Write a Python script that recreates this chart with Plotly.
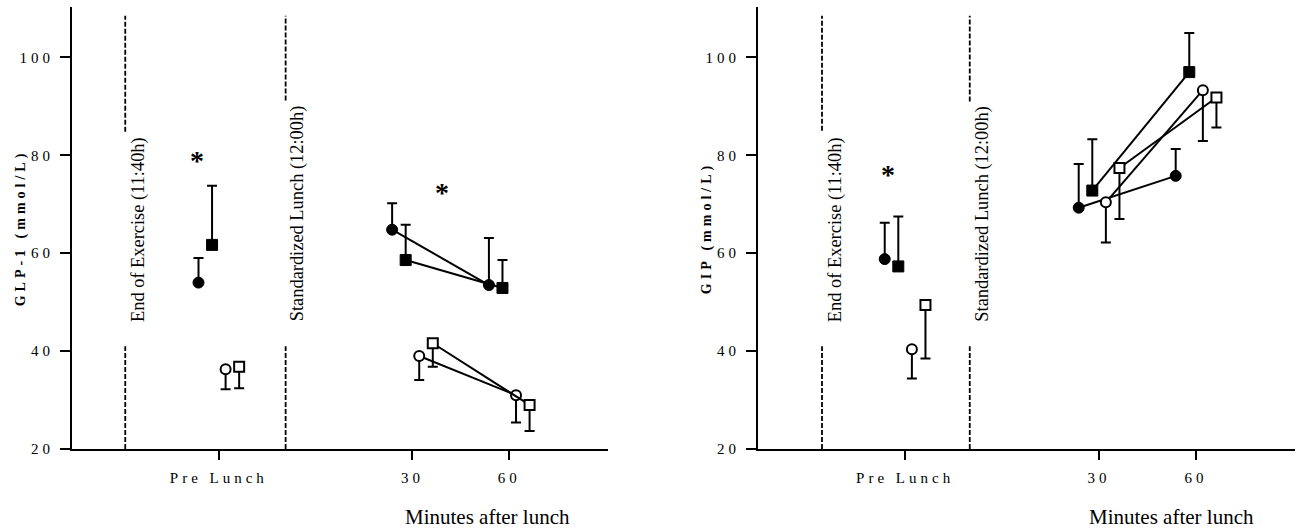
import plotly.graph_objects as go

# ---------------- data ----------------
time_points = [-30, 30, 60]          # Pre Lunch, 30 min, 60 min
tick_vals = [-30, 30, 60]
tick_text = ["Pre Lunch", "30", "60"]
y_ticks = [20, 40, 60, 80, 100]

series_names = ["Group A", "Group B", "Group C", "Group D"]

# GLP-1 panel
glp1_A = [54.0, 64.8, 53.5]
glp1_A_err = [5.0, 5.4, 9.6]
glp1_B = [61.7, 58.6, 52.9]
glp1_B_err = [12.1, 7.2, 5.7]
glp1_C = [36.3, 39.0, 31.0]
glp1_C_err = [4.1, 4.9, 5.6]
glp1_D = [36.8, 41.6, 29.0]
glp1_D_err = [4.4, 4.8, 5.3]

# GIP panel
gip_A = [58.8, 69.3, 75.8]
gip_A_err = [7.4, 8.9, 5.5]
gip_B = [57.3, 72.8, 97.0]
gip_B_err = [10.2, 10.5, 8.0]
gip_C = [40.4, 70.4, 93.3]
gip_C_err = [6.0, 8.2, 10.4]
gip_D = [49.4, 77.4, 91.8]
gip_D_err = [10.9, 10.4, 6.1]

# ---------------- style ----------------
FONT = "Liberation Serif, Times New Roman, serif"
dodge = [-6.3, -2.1, 2.1, 6.3]
styles = [
    dict(symbol="circle", color="black", line=dict(color="black", width=1), size=11),
    dict(symbol="square", color="black", line=dict(color="black", width=1), size=11),
    dict(symbol="circle", color="white", line=dict(color="black", width=2), size=10),
    dict(symbol="square", color="white", line=dict(color="black", width=2), size=10),
]
err_up = [True, True, False, False]

fig = go.Figure()

panels = [
    ("x", "y", [glp1_A, glp1_B, glp1_C, glp1_D], [glp1_A_err, glp1_B_err, glp1_C_err, glp1_D_err]),
    ("x2", "y2", [gip_A, gip_B, gip_C, gip_D], [gip_A_err, gip_B_err, gip_C_err, gip_D_err]),
]

for xa, ya, means, errs in panels:
    for i in range(4):
        xs = [t + dodge[i] for t in time_points]
        zeros = [0] * len(xs)
        ey = dict(type="data", symmetric=False,
                  array=errs[i] if err_up[i] else zeros,
                  arrayminus=zeros if err_up[i] else errs[i],
                  color="black", thickness=2, width=5)
        # pre-lunch point (not connected)
        fig.add_trace(go.Scatter(
            x=xs[:1], y=means[i][:1], mode="markers", name=series_names[i],
            marker=styles[i], error_y=dict(ey, array=ey["array"][:1], arrayminus=ey["arrayminus"][:1]),
            xaxis=xa, yaxis=ya, showlegend=False, cliponaxis=False))
        # post-lunch points connected
        fig.add_trace(go.Scatter(
            x=xs[1:], y=means[i][1:], mode="lines+markers", name=series_names[i],
            marker=styles[i], line=dict(color="black", width=2),
            error_y=dict(ey, array=ey["array"][1:], arrayminus=ey["arrayminus"][1:]),
            xaxis=xa, yaxis=ya, showlegend=False, cliponaxis=False))

W, H = 1302, 531
axis_common = dict(showline=True, linewidth=2, linecolor="black", showgrid=False,
                   zeroline=False, ticks="outside", tickwidth=2, tickcolor="black",
                   tickfont=dict(family=FONT, size=15, color="black"))
xcommon = dict(axis_common, range=[-75.5, 90.6], tickvals=tick_vals, ticktext=tick_text,
               ticklen=9, ticklabelstandoff=5)
ycommon = dict(axis_common, range=[20, 110.3], tickvals=y_ticks, ticklen=10,
               ticklabelstandoff=3)

fig.update_layout(
    width=W, height=H,
    margin=dict(l=0, r=0, t=7, b=82),
    plot_bgcolor="white", paper_bgcolor="white",
    xaxis=dict(xcommon, domain=[72 / W, 608 / W], anchor="y"),
    yaxis=dict(ycommon, domain=[0, 1], anchor="x",
               title=dict(text="<b>GLP-1 (mmol/L)</b>", font=dict(family=FONT, size=14, color="black"),
                          standoff=3)),
    xaxis2=dict(xcommon, domain=[758 / W, 1295 / W], anchor="y2"),
    yaxis2=dict(ycommon, domain=[0, 1], anchor="x2",
                title=dict(text="<b>GIP (mmol/L)</b>", font=dict(family=FONT, size=14, color="black"),
                           standoff=3)),
)

# dashed event lines (with gaps for the labels)
dash_spec = [
    ("x", "y", -59.0, 84.8),
    ("x", "y", -9.3, 91.2),
    ("x2", "y2", -55.7, 85.0),
    ("x2", "y2", -10.0, 91.0),
]
shapes = []
for xr, yr, xv, gap_top in dash_spec:
    for y0, y1 in [(gap_top, 108.5), (20, 41.0)]:
        shapes.append(dict(type="line", xref=xr, yref=yr, x0=xv, x1=xv, y0=y0, y1=y1,
                           line=dict(color="black", width=1.8, dash="5px,2px")))
fig.update_layout(shapes=shapes)

ann = []
labels = [
    ("x", "y", -55.1, "End of Exercise (11:40h)"),
    ("x", "y", -5.6, "Standardized Lunch (12:00h)"),
    ("x2", "y2", -51.7, "End of Exercise (11:40h)"),
    ("x2", "y2", -5.9, "Standardized Lunch (12:00h)"),
]
for xr, yr, xv, txt in labels:
    ann.append(dict(xref=xr, yref=yr, x=xv, y=45.6, text=txt, textangle=-90, showarrow=False,
                    xanchor="center", yanchor="bottom", font=dict(family=FONT, size=18.4, color="black")))
stars = [("x", "y", -36.7, 79.0), ("x", "y", 39.3, 72.5), ("x2", "y2", -35.4, 76.0)]
for xr, yr, xv, yv in stars:
    ann.append(dict(xref=xr, yref=yr, x=xv, y=yv, text="*", showarrow=False,
                    xanchor="center", yanchor="middle",
                    font=dict(family=FONT, size=28, color="black", weight="bold")))
for xp in [487 / W, 1171.5 / W]:
    ann.append(dict(xref="paper", yref="paper", x=xp, y=(449 - 517) / 442, text="Minutes after lunch",
                    showarrow=False, xanchor="center", yanchor="middle",
                    font=dict(family=FONT, size=21, color="black")))
fig.update_layout(annotations=ann)

css = ("body{margin:0;padding:0;}"
       " .xtick text, .x2tick text, .ytick text, .y2tick text {letter-spacing:4px;}"
       " .ytitle, .y2title {letter-spacing:4px;}")
post = ("var s=document.createElement('style');s.textContent='" + css + "';"
        "document.head.appendChild(s);")

fig.write_html("out.html", post_script=post, config={"displayModeBar": False})
